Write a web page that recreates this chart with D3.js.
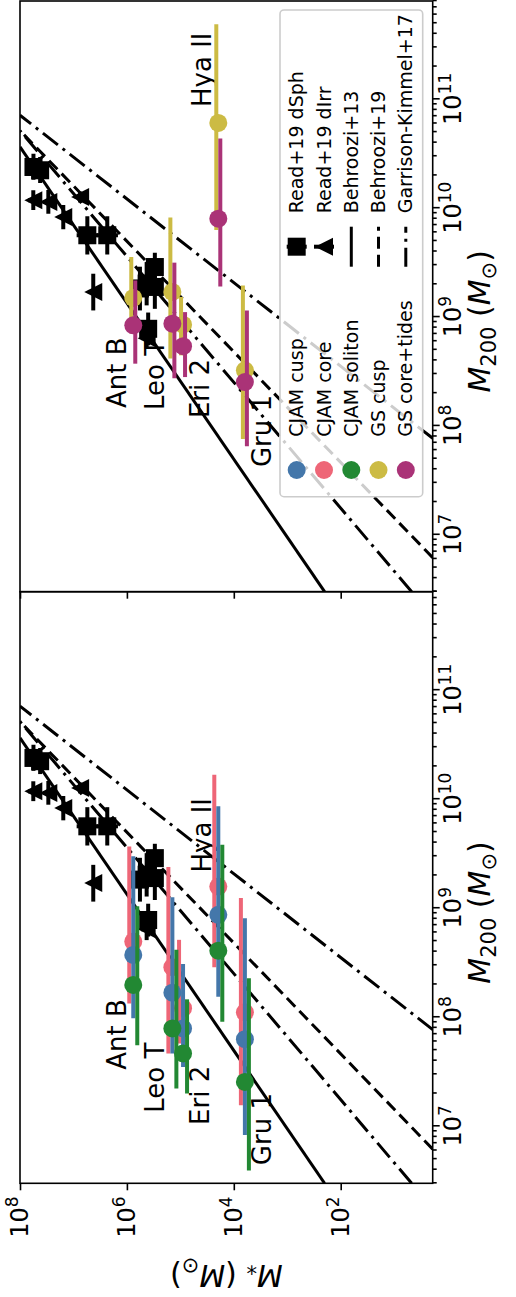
<!DOCTYPE html>
<html>
<head>
<meta charset="utf-8">
<script src="https://d3js.org/d3.v7.min.js"></script>
<style>
  body { margin: 0; background: #fff; }
  svg text { font-family: "DejaVu Sans", sans-serif; }
</style>
</head>
<body>
<script>
// ---- values ----
// Read+19 dSph (squares)
const dsphM200   = [2.39e10, 2.23e10, 5.64e9, 5.64e9, 2.88e9, 2.03e9, 1.89e9, 1.83e9, 7.8e8];
const dsphMstar  = [5.6e7, 4.2e7, 5.5e6, 2.33e6, 3.0e5, 4.27e5, 3.0e5, 5.7e5, 4.0e5];
const dsphM200lo = [1.82e10, 1.70e10, 3.76e9, 3.76e9, 2.13e9, 1.28e9, 1.19e9, 1.15e9, 5.5e8];
const dsphM200hi = [3.16e10, 2.95e10, 8.45e9, 8.45e9, 3.9e9, 3.2e9, 3.0e9, 2.9e9, 1.1e9];
const dsphMstarDex = [0.15, 0.15, 0.2, 0.2, 0.15, 0.15, 0.15, 0.15, 0.15];
// Read+19 dIrr (triangles)
const dirrM200   = [1.18e10, 1.14e10, 8.3e9, 1.27e10, 1.7e9, 6.4e8];
const dirrMstar  = [5.64e7, 2.95e7, 1.55e7, 7.5e6, 4.26e6, 4.27e5];
const dirrM200lo = [9.6e9, 8.9e9, 6.4e9, 1.13e10, 1.15e9, 5.1e8];
const dirrM200hi = [1.46e10, 1.47e10, 1.07e10, 1.42e10, 2.5e9, 8.0e8];
const dirrMstarDex = [0.1, 0.1, 0.1, 0.1, 0.1, 0.1];

// the five galaxies
const galaxies = ["Ant B", "Leo T", "Eri 2", "Hya II", "Gru 1"];
const galMstar = [7.6e5, 1.41e5, 8.9e4, 1.95e4, 6.2e3];

const cjamCusp    = [3.73e8, 1.68e8, 7.9e7, 8.7e8, 6.3e7];
const cjamCuspLo  = [9.8e7, 4.66e7, 3.5e7, 1.54e8, 8.3e6];
const cjamCuspHi  = [2.99e9, 1.26e9, 3.08e8, 8.6e9, 8.1e8];
const cjamCore    = [4.94e8, 2.88e8, 1.21e8, 1.58e9, 1.11e8];
const cjamCoreLo  = [1.34e8, 4.66e7, 5.75e7, 2.88e8, 1.56e7];
const cjamCoreHi  = [3.69e9, 2.39e9, 5.13e8, 1.68e10, 1.24e9];
const cjamSol     = [1.98e8, 7.9e7, 4.66e7, 4.08e8, 2.55e7];
const cjamSolLo   = [5.55e7, 2.22e7, 2.0e7, 9.1e7, 3.94e6];
const cjamSolHi   = [1.04e9, 4.15e8, 1.46e8, 3.83e9, 2.28e8];

const gsCusp      = [1.5e9, 1.7e9, 8.5e8, 6.07e10, 3.24e8];
const gsCuspLo    = [7.1e8, 4.17e8, 4.45e8, 6.3e9, 7.6e7];
const gsCuspHi    = [3.56e9, 8.2e9, 1.53e9, 4.9e11, 1.95e9];
const gsTides     = [8.4e8, 8.7e8, 5.4e8, 8.0e9, 2.53e8];
const gsTidesLo   = [3.73e8, 2.74e8, 2.81e8, 1.91e9, 6.5e7];
const gsTidesHi   = [2.17e9, 3.16e9, 1.11e9, 4.37e10, 1.15e9];

// where the galaxy names sit (left end of text, baseline)
const labelM200Left  = [3.3e7, 1.33e7, 1.03e7, 2.13e9, 4.4e6];
const labelM200Right = [1.46e8, 1.4e8, 1.18e8, 8.5e10, 4.19e7];
const labelMstar     = [1.04e6, 2.0e5, 2.9e4, 2.7e4, 2.04e3];

// stellar-mass / halo-mass relations, two ends each
const b13   = [[3e6, 200], [3.65e10, 1e8]];
const b19   = [[6.17e6, 1.9], [5.16e10, 1e8]];
const gk17a = [[3e6, 4.7], [5.16e10, 1e8]];
const gk17b = [[7.7e7, 1.9], [7.14e10, 1e8]];

const xTicks = [1e7, 1e8, 1e9, 1e10, 1e11];
const yTicks = [1e2, 1e4, 1e6, 1e8];

const cBlue = '#4477AA', cPink = '#EE6677', cGreen = '#228833', cYellow = '#CCBB44', cPurple = '#AA3377';

// ---- drawing: the figure is laid out landscape, then turned a quarter ----
const W = 1297, H = 516;
const yTop = 20, yBot = 432.7;
const panels = [
  {x0: 113.7, x1: 705.3, left: true},
  {x0: 705.3, x1: 1296, left: false}
];

const svg = d3.select('body').append('svg').attr('width', H).attr('height', W);
svg.append('rect').attr('width', H).attr('height', W).attr('fill', '#fff');
const fig = svg.append('g').attr('transform', `translate(0,${W}) rotate(-90)`);

const minors = [];
for (let e = 6; e <= 11; e++) for (let k = 2; k <= 9; k++) {
  const v = k * Math.pow(10, e);
  if (v >= 3e6 && v <= 8e11) minors.push(v);
}

function sup(sel) {
  sel.each(function(d) {
    const t = d3.select(this);
    t.text(null);
    t.append('tspan').text('10');
    t.append('tspan').attr('font-size', 17).attr('dy', -10).text(Math.round(Math.log10(d)));
  });
}

const dashB19 = '12,6', dashGK = '19,6,3,6';
const relations = [
  {pts: b13, dash: null},
  {pts: b19, dash: dashB19},
  {pts: gk17a, dash: dashGK},
  {pts: gk17b, dash: dashGK}
];

panels.forEach((p, i) => {
  const x = d3.scaleLog().domain([3e6, 8e11]).range([p.x0, p.x1]);
  const y = d3.scaleLog().domain([1.9, 1e8]).range([yBot, yTop]);
  const ax = fig.append('g');
  ax.append('clipPath').attr('id', 'clip' + i).append('rect')
    .attr('x', p.x0).attr('y', yTop).attr('width', p.x1 - p.x0).attr('height', yBot - yTop);
  const plot = ax.append('g').attr('clip-path', `url(#clip${i})`);

  const line = d3.line().x(d => x(d[0])).y(d => y(d[1]));
  relations.forEach(r => {
    plot.append('path').attr('d', line(r.pts)).attr('fill', 'none')
      .attr('stroke', '#000').attr('stroke-width', 3).attr('stroke-dasharray', r.dash);
  });

  // galaxy names (under the points)
  const lx = p.left ? labelM200Left : labelM200Right;
  galaxies.forEach((gname, j) => {
    plot.append('text').attr('x', x(lx[j])).attr('y', y(labelMstar[j]))
      .attr('font-size', 26).attr('fill', '#000').text(gname);
  });

  // Read+19 points
  function blackSet(m200, mstar, lo, hi, dex, shape) {
    m200.forEach((m, j) => {
      plot.append('line').attr('x1', x(lo[j])).attr('x2', x(hi[j]))
        .attr('y1', y(mstar[j])).attr('y2', y(mstar[j]))
        .attr('stroke', '#000').attr('stroke-width', 4);
      const f = Math.pow(10, dex[j]);
      plot.append('line').attr('x1', x(m)).attr('x2', x(m))
        .attr('y1', y(mstar[j] / f)).attr('y2', y(mstar[j] * f))
        .attr('stroke', '#000').attr('stroke-width', 4);
    });
    m200.forEach((m, j) => {
      const cx = x(m), cy = y(mstar[j]);
      if (shape === 's') {
        plot.append('rect').attr('x', cx - 9).attr('y', cy - 9).attr('width', 18).attr('height', 18).attr('fill', '#000');
      } else {
        plot.append('path').attr('d', `M${cx},${cy - 9}L${cx + 9},${cy + 9}L${cx - 9},${cy + 9}Z`).attr('fill', '#000');
      }
    });
  }
  blackSet(dsphM200, dsphMstar, dsphM200lo, dsphM200hi, dsphMstarDex, 's');
  blackSet(dirrM200, dirrMstar, dirrM200lo, dirrM200hi, dirrMstarDex, '^');

  // model estimates
  function colSet(val, lo, hi, color, off) {
    val.forEach((v, j) => {
      plot.append('line').attr('x1', x(lo[j])).attr('x2', x(hi[j]))
        .attr('y1', y(galMstar[j]) + off).attr('y2', y(galMstar[j]) + off)
        .attr('stroke', color).attr('stroke-width', 4);
    });
    val.forEach((v, j) => {
      plot.append('circle').attr('cx', x(v)).attr('cy', y(galMstar[j])).attr('r', 9).attr('fill', color);
    });
  }
  if (p.left) {
    colSet(cjamCore, cjamCoreLo, cjamCoreHi, cPink, -4);
    colSet(cjamCusp, cjamCuspLo, cjamCuspHi, cBlue, 0);
    colSet(cjamSol, cjamSolLo, cjamSolHi, cGreen, 4);
  } else {
    colSet(gsCusp, gsCuspLo, gsCuspHi, cYellow, -2);
    colSet(gsTides, gsTidesLo, gsTidesHi, cPurple, 2);
  }

  // axes
  const xa = ax.append('g').attr('transform', `translate(0,${yBot})`)
    .call(d3.axisBottom(x).tickValues(minors).tickSize(4).tickFormat('').tickSizeOuter(0));
  xa.select('.domain').remove();
  const xb = ax.append('g').attr('transform', `translate(0,${yBot})`)
    .call(d3.axisBottom(x).tickValues(xTicks).tickSize(7).tickPadding(4).tickSizeOuter(0));
  xb.select('.domain').remove();
  xb.attr('font-family', null).attr('font-size', 24);
  xb.selectAll('.tick text').call(sup);
  ax.selectAll('.tick line').attr('stroke-width', 1.6);

  const ya = ax.append('g').attr('transform', `translate(${p.x0},0)`)
    .call(d3.axisLeft(y).tickValues(yTicks).tickSize(7).tickPadding(6).tickSizeOuter(0)
      .tickFormat(p.left ? null : ''));
  ya.select('.domain').remove();
  ya.attr('font-family', null).attr('font-size', 24);
  ya.selectAll('.tick line').attr('stroke-width', 1.6);
  if (p.left) ya.selectAll('.tick text').call(sup);

  ax.append('rect').attr('x', p.x0).attr('y', yTop).attr('width', p.x1 - p.x0).attr('height', yBot - yTop)
    .attr('fill', 'none').attr('stroke', '#000').attr('stroke-width', 1.6);

  // x label
  const xl = ax.append('text').attr('x', (p.x0 + p.x1) / 2 - 25).attr('y', 490)
    .attr('text-anchor', 'middle').attr('font-size', 30);
  xl.append('tspan').attr('font-style', 'italic').text('M');
  xl.append('tspan').attr('font-size', 21).attr('dy', 6).text('200');
  xl.append('tspan').attr('dy', -6).text(' (');
  xl.append('tspan').attr('font-style', 'italic').text('M');
  xl.append('tspan').attr('font-size', 21).attr('dy', 6).text('⊙');
  xl.append('tspan').attr('dy', -6).text(')');

  if (p.left) {
    const yl = ax.append('text').attr('transform', `translate(32,${(yTop + yBot) / 2}) rotate(-90)`)
      .attr('text-anchor', 'middle').attr('font-size', 30);
    yl.append('tspan').attr('font-style', 'italic').text('M');
    yl.append('tspan').attr('font-size', 21).attr('dy', 6).text('*');
    yl.append('tspan').attr('dy', -6).text(' (');
    yl.append('tspan').attr('font-style', 'italic').text('M');
    yl.append('tspan').attr('font-size', 21).attr('dy', 6).text('⊙');
    yl.append('tspan').attr('dy', -6).text(')');
  } else {
    // legend
    const lg = ax.append('g');
    lg.append('rect').attr('x', 800.3).attr('y', 280).attr('width', 486.7).attr('height', 142.7)
      .attr('rx', 4).attr('fill', '#fff').attr('fill-opacity', 0.8)
      .attr('stroke', '#cccccc').attr('stroke-width', 1.6);
    const rows = [296.7, 324, 351.3, 378.5, 405.8];
    const col1 = [['CJAM cusp', cBlue], ['CJAM core', cPink], ['CJAM soliton', cGreen], ['GS cusp', cYellow], ['GS core+tides', cPurple]];
    col1.forEach((e, k) => {
      lg.append('circle').attr('cx', 827).attr('cy', rows[k]).attr('r', 9).attr('fill', e[1]);
      lg.append('text').attr('x', 860.3).attr('y', rows[k] + 6.5).attr('font-size', 19).text(e[0]);
    });
    const col2 = ['Read+19 dSph', 'Read+19 dIrr', 'Behroozi+13', 'Behroozi+19', 'Garrison-Kimmel+17'];
    const col2dash = [null, null, null, dashB19, dashGK];
    const hx = 1050.3;
    col2.forEach((t, k) => {
      const cy = rows[k];
      if (k < 2) {
        lg.append('line').attr('x1', hx).attr('x2', hx).attr('y1', cy - 10).attr('y2', cy + 10)
          .attr('stroke', '#000').attr('stroke-width', 4);
        if (k === 0) lg.append('rect').attr('x', hx - 9).attr('y', cy - 9).attr('width', 18).attr('height', 18);
        else lg.append('path').attr('d', `M${hx},${cy - 9}L${hx + 9},${cy + 9}L${hx - 9},${cy + 9}Z`);
      } else {
        lg.append('line').attr('x1', hx - 20).attr('x2', hx + 20).attr('y1', cy).attr('y2', cy)
          .attr('stroke', '#000').attr('stroke-width', 3).attr('stroke-dasharray', col2dash[k]);
      }
      lg.append('text').attr('x', 1083.7).attr('y', cy + 6.5).attr('font-size', 19).text(t);
    });
  }
});
</script>
</body>
</html>
